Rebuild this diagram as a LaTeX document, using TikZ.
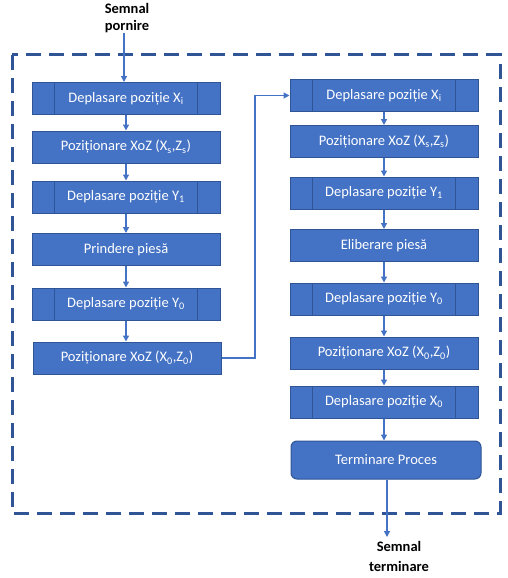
\documentclass[tikz,border=0pt]{standalone}
\usepackage{fontspec}
\setmainfont{Carlito}
\usetikzlibrary{arrows.meta}
\definecolor{boxfill}{HTML}{4472C4}
\definecolor{boxline}{HTML}{2F5597}
\definecolor{frame}{HTML}{2F5597}
\tikzset{
  proc/.style={draw=boxline, line width=1pt, fill=boxfill, text=white, minimum width=188pt, minimum height=32pt, inner sep=0pt, font=\fontsize{14.5}{16}\selectfont},
  predef/.style={proc, path picture={
    \draw[boxline, line width=1pt] ([xshift=22pt]path picture bounding box.north west) -- ([xshift=22pt]path picture bounding box.south west);
    \draw[boxline, line width=1pt] ([xshift=-23pt]path picture bounding box.north east) -- ([xshift=-23pt]path picture bounding box.south east);}},
  term/.style={proc, rounded corners=6pt, minimum width=190pt, minimum height=38pt},
  conn/.style={draw=boxfill, line width=1.3pt, -{Triangle[length=6pt,width=6pt]}},
  sig/.style={font=\bfseries\fontsize{14.5}{17}\selectfont, align=center, text=black}
}
\begin{document}
\begin{tikzpicture}[x=1pt,y=-1pt]
\useasboundingbox (0,0) rectangle (508,578);
\draw[frame, line width=3pt, dash pattern=on 15pt off 8pt] (12,55) rectangle (500,513);
\node[sig] (start) at (127,18) {Semnal\\pornire};
\node[predef] (L1) at (126,98.5) {Deplasare poziție X\textsubscript{i}};
\node[proc] (L2) at (126,147) {Poziționare XoZ (X\textsubscript{s},Z\textsubscript{s})};
\node[predef] (L3) at (126,197) {Deplasare poziție Y\textsubscript{1}};
\node[proc] (L4) at (126,249.5) {Prindere piesă};
\node[predef] (L5) at (126,304) {Deplasare poziție Y\textsubscript{0}};
\node[proc] (L6) at (127,358) {Poziționare XoZ (X\textsubscript{0},Z\textsubscript{0})};
\node[predef] (R1) at (384,95.5) {Deplasare poziție X\textsubscript{i}};
\node[proc] (R2) at (384,141.5) {Poziționare XoZ (X\textsubscript{s},Z\textsubscript{s})};
\node[predef] (R3) at (384,193) {Deplasare poziție Y\textsubscript{1}};
\node[proc] (R4) at (384,245.5) {Eliberare piesă};
\node[predef] (R5) at (384,299) {Deplasare poziție Y\textsubscript{0}};
\node[proc] (R6) at (384,353) {Poziționare XoZ (X\textsubscript{0},Z\textsubscript{0})};
\node[predef] (R7) at (384,402) {Deplasare poziție X\textsubscript{0}};
\node[term] (R8) at (386,460) {Terminare Proces};
\node[sig, font=\bfseries\fontsize{14.5}{20}\selectfont] (stop) at (399,556) {Semnal\\terminare};
\coordinate (a1) at (124,33);
\coordinate (e1) at (387,537);
\draw[conn] (a1) -- (a1 |- L1.north);
\draw[conn] (L1) -- (L2);
\draw[conn] (L2) -- (L3);
\draw[conn] (L3) -- (L4);
\draw[conn] (L4) -- (L5);
\draw[conn] (L5.south) -- (L5.south |- L6.north);
\draw[conn] (L6.east) -- (255,358) -- (255,95.5) -- (R1.west);
\draw[conn] (R1) -- (R2);
\draw[conn] (R2) -- (R3);
\draw[conn] (R3) -- (R4);
\draw[conn] (R4) -- (R5);
\draw[conn] (R5) -- (R6);
\draw[conn] (R6) -- (R7);
\draw[conn] (R7.south) -- (R7.south |- R8.north);
\draw[conn] (R8.south -| e1) -- (e1);
\end{tikzpicture}
\end{document}
